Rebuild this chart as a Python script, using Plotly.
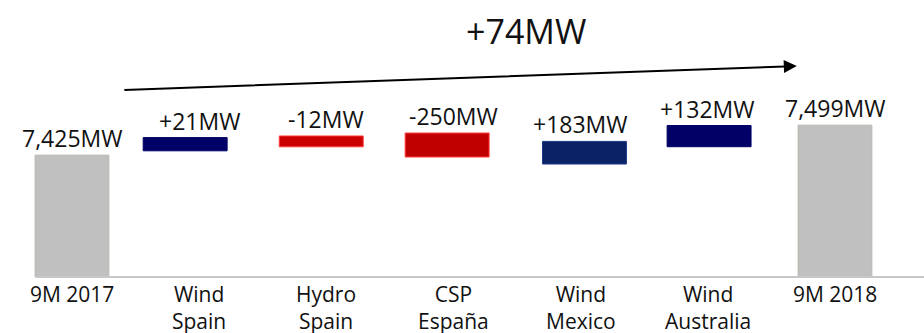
import math
import plotly.graph_objects as go

# Capacity bridge, 9M 2017 -> 9M 2018
categories = ["9M 2017", "Wind<br>Spain", "Hydro<br>Spain", "CSP<br>España",
              "Wind<br>Mexico", "Wind<br>Australia", "9M 2018"]
start_mw = 7425
end_mw = 7499
change_names = ["Wind Spain", "Hydro Spain", "CSP España", "Wind Mexico", "Wind Australia"]
changes_mw = [21, -12, -250, 183, 132]

# ---- presentation settings ----
AXIS_FLOOR = 7124          # truncated axis start (MW)
MW_PER_PX = 2.47           # vertical scale
Y_RANGE = [AXIS_FLOOR - 56 * MW_PER_PX, AXIS_FLOOR + 277 * MW_PER_PX]
X_RANGE = [-0.566, 6.70]
float_centres = [7452, 7459, 7450, 7431, 7472]   # vertical centre of each step box (MW)
float_offsets = [-0.44, -0.37, -0.38, -0.30, -0.32]  # horizontal placement of step boxes
change_colors = ["#000066", "#cc0000", "#c00000", "#0b2264", "#000066"]
change_lines = ["#000066", "#ff3b3b", "#ff3b3b", "#1a3a8a", "#000066"]
TOTAL_COLOR = "#c0c0c0"
FONT = "Open Sans, Noto Sans, sans-serif"


def fmt_change(v):
    return f"{v:+d}MW"


def fmt_total(v):
    return f"{v:,}MW"


def box_height(v):
    # steps are drawn on a compressed (log) scale
    return 10 * math.log10(abs(v)) * MW_PER_PX


fig = go.Figure()

# start / end totals
fig.add_trace(go.Bar(
    x=[0, 6],
    y=[start_mw - AXIS_FLOOR, end_mw - AXIS_FLOOR],
    base=[AXIS_FLOOR, AXIS_FLOOR],
    width=0.58,
    marker=dict(color=TOTAL_COLOR, line=dict(color="#b4b9ac", width=1)),
    hoverinfo="skip",
))

# floating steps
heights = [box_height(v) for v in changes_mw]
bases = [c - h / 2 for c, h in zip(float_centres, heights)]
fig.add_trace(go.Bar(
    x=[1, 2, 3, 4, 5],
    y=heights,
    base=bases,
    width=0.66,
    offset=float_offsets,
    marker=dict(color=change_colors, line=dict(color=change_lines, width=1)),
    hovertext=change_names,
    hoverinfo="text",
))

annotations = []
# value labels
for xi, v in [(0, start_mw), (6, end_mw)]:
    annotations.append(dict(x=xi, y=v, text=fmt_total(v), showarrow=False,
                            yanchor="bottom", yshift=-1,
                            font=dict(size=23, color="#111111", family=FONT)))
for i, v in enumerate(changes_mw):
    top = bases[i] + heights[i]
    annotations.append(dict(x=i + 1, y=top, text=fmt_change(v), showarrow=False,
                            yanchor="bottom", yshift=-1,
                            font=dict(size=23, color="#111111", family=FONT)))

# category labels under the baseline
for i, name in enumerate(categories):
    annotations.append(dict(x=i, y=AXIS_FLOOR, text=name, showarrow=False,
                            yanchor="top", yshift=-1,
                            font=dict(size=21, color="#111111", family=FONT)))

# net change arrow and label
annotations.append(dict(x=5.70, y=7645, ax=0.40, ay=7586, xref="x", yref="y",
                        axref="x", ayref="y", text="", showarrow=True,
                        arrowhead=2, arrowsize=1.3, arrowwidth=2, arrowcolor="#000000"))
annotations.append(dict(x=3.57, y=7731, text=fmt_change(end_mw - start_mw), showarrow=False,
                        font=dict(size=34, color="#111111", family=FONT)))

fig.update_layout(
    width=924, height=333,
    margin=dict(l=0, r=0, t=0, b=0),
    paper_bgcolor="white", plot_bgcolor="white",
    showlegend=False,
    barmode="overlay",
    xaxis=dict(range=X_RANGE, visible=False, fixedrange=True),
    yaxis=dict(range=Y_RANGE, visible=False, fixedrange=True),
    annotations=annotations,
    shapes=[dict(type="line", xref="x", yref="y", x0=-0.28, x1=6.70,
                 y0=AXIS_FLOOR, y1=AXIS_FLOOR, line=dict(color="#c8c8c8", width=2),
                 layer="above")],
)

fig.write_html("out.html")
